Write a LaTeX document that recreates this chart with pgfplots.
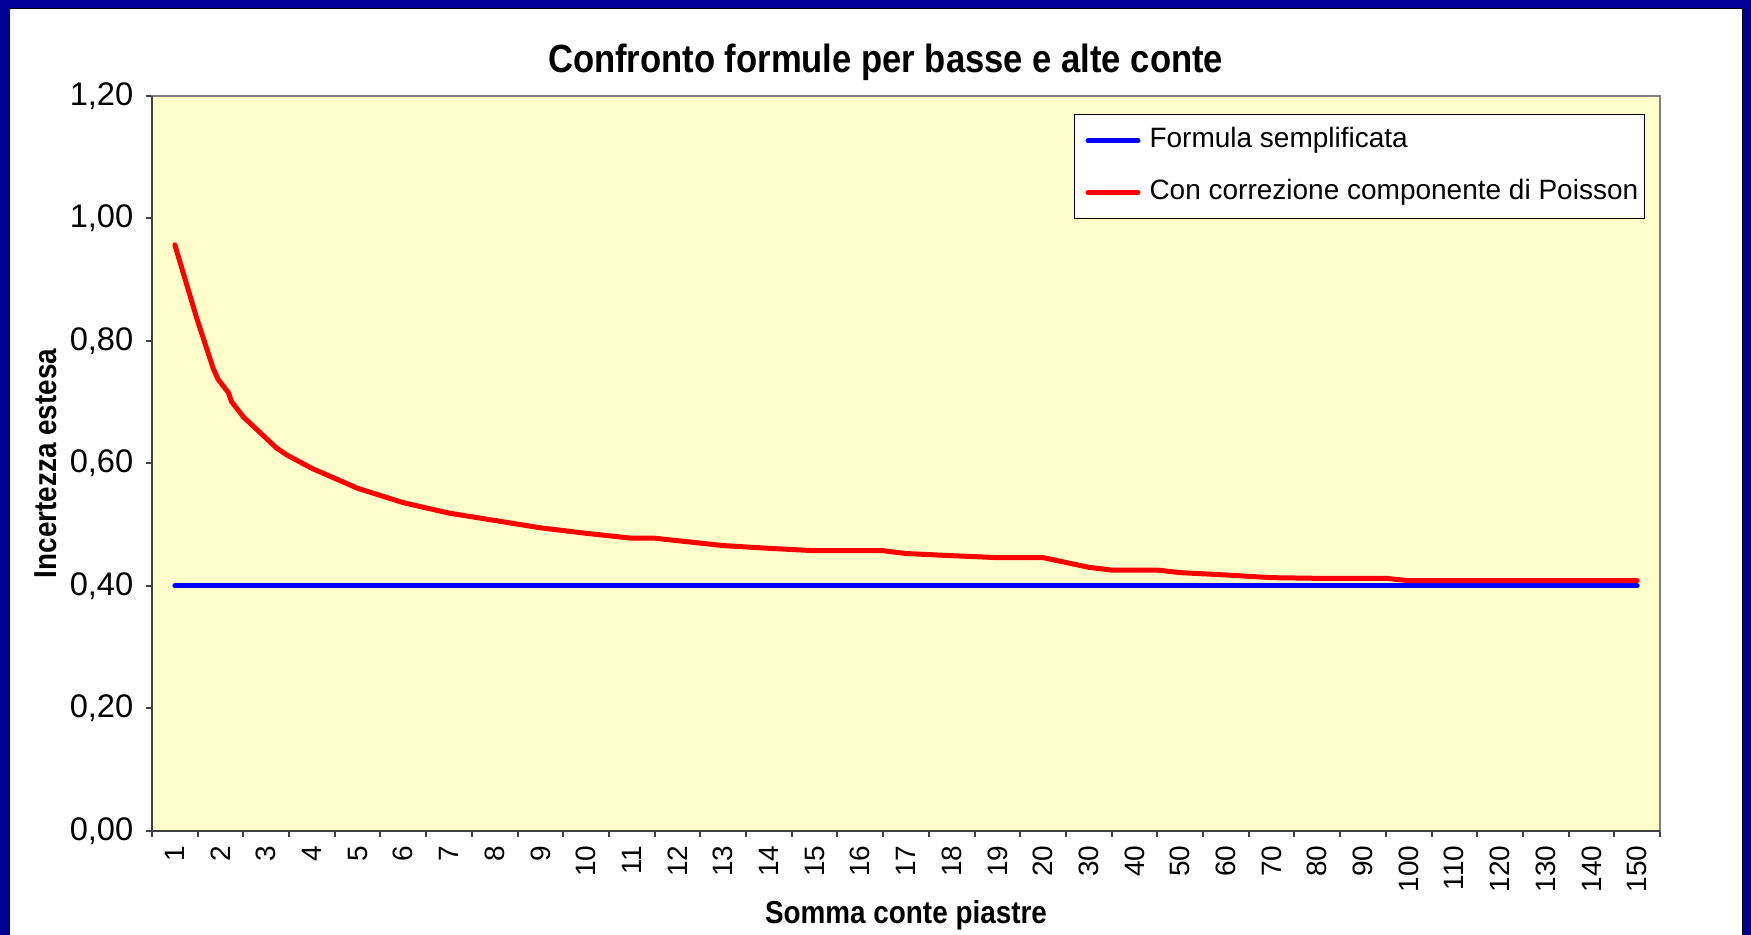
\documentclass[border=0pt]{standalone}
\usepackage{fontspec}
\setmainfont{Liberation Sans}
\newfontfamily\condfont[FakeStretch=0.88]{Liberation Sans}
\usepackage{pgfplots}
\usepackage{pgfplotstable}
\pgfplotsset{compat=1.18}
\definecolor{navyframe}{RGB}{0,0,153}
\definecolor{plotbg}{RGB}{255,255,204}
\definecolor{axgray}{RGB}{128,128,128}
\definecolor{axdark}{RGB}{64,64,64}

% x = category index (1..33); fractional x where the line bends between categories
\pgfplotstableread{
x y
1 0.957
1.48 0.837
1.84 0.755
1.95 0.737
2.17 0.716
2.24 0.701
2.50 0.676
3.23 0.625
3.45 0.614
4 0.592
5 0.5595
6 0.536
7 0.519
8 0.507
9 0.495
10 0.486
11 0.478
11.5 0.478
12 0.474
13 0.466
14 0.4615
15 0.4576
16 0.4576
16.5 0.4576
17 0.453
18 0.4495
19 0.4463
20 0.4463
21 0.4305
21.5 0.426
22.5 0.426
23 0.4218
24 0.418
25 0.4136
26 0.4125
27 0.4125
27.5 0.4125
28 0.4087
29 0.4087
30 0.4087
31 0.4087
32 0.4087
33 0.4087
}\redtable

\pgfplotstableread{
x y
1 0.40
2 0.40
3 0.40
4 0.40
5 0.40
6 0.40
7 0.40
8 0.40
9 0.40
10 0.40
11 0.40
12 0.40
13 0.40
14 0.40
15 0.40
16 0.40
17 0.40
18 0.40
19 0.40
20 0.40
21 0.40
22 0.40
23 0.40
24 0.40
25 0.40
26 0.40
27 0.40
28 0.40
29 0.40
30 0.40
31 0.40
32 0.40
33 0.40
}\bluetable

\begin{document}
\begin{tikzpicture}
\fill[navyframe] (0pt,0pt) rectangle (525.3pt,280.5pt);
\fill[white] (2.7pt,0pt) rectangle (522.6pt,277.8pt);
\draw[black, line width=0.3pt] (2.7pt,0pt) -- (2.7pt,277.8pt) -- (522.6pt,277.8pt) -- (522.6pt,0pt);
\begin{axis}[
  at={(45.6pt,31.2pt)}, anchor=south west,
  scale only axis, width=452.4pt, height=220.5pt,
  xmin=0.5, xmax=33.5, ymin=0, ymax=1.2,
  xtick={1,...,33},
  xticklabels={1,2,3,4,5,6,7,8,9,10,11,12,13,14,15,16,17,18,19,20,30,40,50,60,70,80,90,100,110,120,130,140,150},
  minor xtick={0.5,1.5,...,33.5},
  ytick={0,0.2,0.4,0.6,0.8,1.0,1.2},
  minor ytick={0,0.2,0.4,0.6,0.8,1.0,1.2},
  major tick length=0pt, minor tick length=1.8pt,
  tick align=outside, tick pos=left,
  tick style={axdark, line width=0.6pt},
  axis line style={axgray, line width=0.6pt},
  axis background/.style={fill=plotbg},
  ticklabel style={inner sep=0pt},
  xticklabel style={rotate=90, anchor=east, font=\fontsize{8.4}{10}\selectfont},
  xticklabel shift=4.2pt, yticklabel shift=5.4pt,
  yticklabel style={anchor=east, font=\fontsize{9.8}{11}\selectfont, /pgf/number format/.cd, fixed, fixed zerofill, precision=2, use comma, assume math mode=true},
  title={Confronto formule per basse e alte conte},
  title style={at={(axis description cs:0.4865,1.005)}, anchor=base, inner sep=0pt, font=\condfont\bfseries\fontsize{11.8}{13}\selectfont},
  xlabel={Somma conte piastre},
  xlabel style={at={(axis description cs:0.5,-0.1252)}, anchor=base, inner sep=0pt, font=\condfont\bfseries\fontsize{9.5}{11}\selectfont},
  ylabel={Incertezza estesa},
  ylabel style={at={(axis description cs:-0.063,0.5)}, anchor=base, inner sep=0pt, font=\condfont\bfseries\fontsize{9.5}{11}\selectfont},
  legend style={at={(axis description cs:0.990,0.9755)}, anchor=north east, draw=black, line width=0.4pt, fill=white, font=\fontsize{8.4}{10}\selectfont, inner xsep=1.8pt, inner ysep=3.8pt, row sep=7.6pt, column sep=2.7pt, nodes={inner sep=0pt, text height=6.2pt, text depth=1.8pt}},
  legend cell align=left,
  legend image code/.code={\path (0pt,0pt); \draw[#1] (1.5pt,0pt) -- (16.5pt,0pt);},
  after end axis/.code={\draw[axdark, line width=0.6pt] (rel axis cs:0,1) -- (rel axis cs:0,0) -- (rel axis cs:1,0);},
]
\addplot[blue, line width=1.5pt, line cap=round, line join=round, mark=none] table[x=x, y=y] {\bluetable};
\addlegendentry{Formula semplificata}
\addplot[red, line width=1.5pt, line cap=round, line join=round, mark=none] table[x=x, y=y] {\redtable};
\addlegendentry{Con correzione componente di Poisson}
\end{axis}
\pgfresetboundingbox
\useasboundingbox (0pt,0pt) rectangle (525.3pt,280.5pt);
\end{tikzpicture}
\end{document}
